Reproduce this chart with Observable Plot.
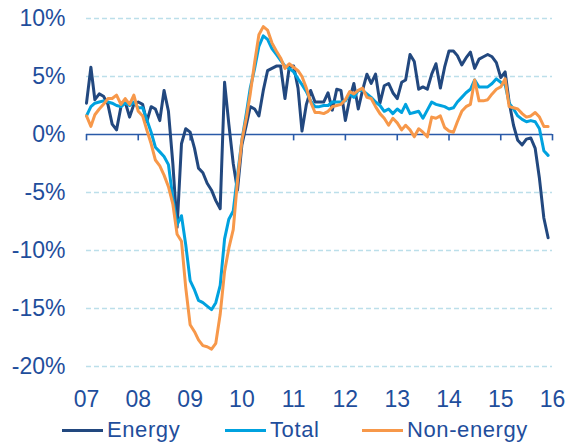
<!DOCTYPE html>
<html>
<head>
<meta charset="utf-8">
<script src="https://cdn.jsdelivr.net/npm/d3@7"></script>
<script src="https://cdn.jsdelivr.net/npm/@observablehq/plot@0.6"></script>
<style>
  html, body { margin: 0; padding: 0; background: #ffffff; }
  #wrap { width: 569px; height: 444px; position: relative; overflow: hidden;
          font-family: "Liberation Sans", Arial, sans-serif; color: #1f4e9c; }
  #legend { position: relative; width: 569px; height: 34px; }
  .item { position: absolute; top: 7px; height: 26px; display: flex; align-items: center; }
  .sw { display: inline-block; width: 41px; height: 3px; }
  .lab { font-size: 22px; letter-spacing: 0.6px; margin-left: 4px; line-height: 26px; white-space: nowrap; }
</style>
</head>
<body>
<div id="wrap"><div id="chart"></div><div id="legend"></div></div>
<script>
// Monthly year-on-year change (%), Jan 2007 – Dec 2015
const startYear = 2007;
const seriesNames = ["Energy", "Total", "Non-energy"];
const seriesColors = ["#22487f", "#00a2df", "#f7984a"];
const yTicks = [-20, -15, -10, -5, 0, 5, 10];
const xTickLabels = ["07", "08", "09", "10", "11", "12", "13", "14", "15", "16"];

const energy = [
  2.7, 5.8, 3.0, 3.5, 3.3, 2.6, 0.9, 0.4, 2.4, 2.8, 1.5, 2.6,
  2.8, 2.6, 1.1, 2.4, 2.2, 1.2, 3.8, 2.0, -2.5, -8.0, -0.8, 0.5,
  0.2, -1.2, -2.9, -3.3, -4.2, -4.8, -5.7, -6.4, 4.5, 0.9, -2.5, -4.8,
  -0.9, 0.8, 2.4, 2.2, 1.6, 3.8, 5.5, 5.7, 5.9, 5.9, 3.1, 5.8,
  5.9, 4.0, 0.3, 2.6, 3.8, 2.8, 2.8, 2.8, 3.6, 2.1, 3.9, 3.8,
  1.2, 3.1, 4.4, 2.2, 3.8, 5.2, 4.4, 5.2, 2.7, 4.2, 4.4, 3.6,
  3.1, 4.5, 4.7, 6.9, 6.3, 3.9, 4.1, 3.9, 5.2, 6.1, 4.0, 5.8,
  7.2, 7.2, 6.8, 6.0, 6.6, 7.1, 5.7, 6.5, 6.7, 6.9, 6.7, 6.2,
  4.9, 5.4, 2.8, 0.8, -0.5, -0.9, -0.4, -0.3, -1.2, -3.8, -7.2, -8.9
];
const total = [
  1.6, 2.4, 2.7, 2.8, 2.9, 2.8, 2.7, 2.5, 2.4, 2.7, 2.5, 2.8,
  2.3, 2.3, 1.3, 0.2, -1.1, -1.5, -1.9, -2.6, -5.5, -7.8, -7.0, -9.5,
  -12.6, -13.4, -14.3, -14.5, -14.8, -15.1, -14.5, -13.0, -9.0, -7.3, -6.6, -3.5,
  -0.5, 1.8, 4.0, 5.7, 7.6, 8.5, 8.2, 7.4, 6.9, 6.4, 5.9, 5.7,
  5.4, 4.8, 4.3, 3.7, 2.9, 2.4, 2.4, 2.5, 2.5, 2.8, 2.8, 2.8,
  2.9, 3.5, 3.2, 3.8, 3.8, 3.5, 3.2, 2.8, 2.5, 2.0, 2.2, 1.8,
  2.2, 1.9, 2.6, 1.8, 1.9, 2.0, 1.4, 2.1, 2.8, 2.6, 2.5, 2.4,
  2.2, 2.3, 2.8, 3.2, 3.6, 3.9, 4.7, 4.1, 4.1, 4.1, 4.4, 4.8,
  4.5, 4.3, 2.7, 2.2, 1.6, 1.3, 1.1, 1.2, 1.1, 0.5, -1.4, -1.8
];
const nonEnergy = [
  1.6, 0.7, 1.7, 2.2, 2.6, 3.1, 3.1, 3.4, 2.6, 3.1, 2.6, 3.4,
  2.0, 1.6, 0.4, -0.8, -2.2, -2.7, -3.5, -4.5, -6.0, -8.6, -9.2, -13.2,
  -16.4, -17.0, -17.7, -18.2, -18.3, -18.5, -18.0, -15.5, -11.8, -9.8, -8.2, -4.0,
  -0.5, 1.4, 3.5, 6.2, 8.6, 9.3, 9.0, 7.9, 7.2, 6.6, 5.7, 6.1,
  5.8, 5.5, 5.0, 4.0, 2.8, 1.9, 1.9, 1.8, 2.0, 2.4, 2.5, 2.6,
  3.0, 3.7, 3.5, 3.8, 4.0, 3.2, 3.1, 2.4, 1.8, 1.4, 0.8, 1.4,
  1.0, 0.4, 0.8, 0.4, -0.2, 0.5, 0.2, -0.2, 1.5, 1.4, 1.6, 0.6,
  0.3, 0.2, 1.1, 2.0, 2.4, 2.6, 4.7, 2.9, 2.9, 3.0, 3.5, 3.9,
  4.1, 4.8, 2.4, 2.3, 2.2, 1.8, 1.5, 1.6, 1.9, 1.5, 0.7, 0.7
];

const seriesValues = [energy, total, nonEnergy];
const rows = [];
seriesNames.forEach((name, s) => {
  seriesValues[s].forEach((v, i) => {
    rows.push({series: name, date: new Date(Date.UTC(startYear, i, 1)), value: v});
  });
});
const tickDates = xTickLabels.map((_, k) => new Date(Date.UTC(startYear + k, 0, 1)));
const labelOf = new Map(tickDates.map((d, k) => [+d, xTickLabels[k]]));
const gridVals = yTicks.filter(v => v !== 0);
const textColor = "#1f4e9c";
const axisColor = "#2a5aa8";

const chart = Plot.plot({
  width: 569,
  height: 410,
  marginLeft: 86,
  marginRight: 17,
  marginTop: 18,
  marginBottom: 44,
  style: {fontFamily: "'Liberation Sans', Arial, sans-serif", fontSize: "23px", color: textColor, background: "#ffffff", overflow: "visible"},
  x: {type: "utc", domain: [tickDates[0], tickDates[tickDates.length - 1]]},
  y: {domain: [-20, 10]},
  color: {domain: seriesNames, range: seriesColors},
  marks: [
    Plot.ruleY(gridVals, {stroke: "#bcdfea", strokeWidth: 1.5, strokeDasharray: "5,3"}),
    Plot.ruleY([0], {stroke: axisColor, strokeWidth: 1.6}),
    Plot.ruleX(tickDates, {y1: 0, y2: -0.55, stroke: axisColor, strokeWidth: 1.6}),
    Plot.axisX({ticks: tickDates, tickFormat: d => labelOf.get(+d), tickSize: 0, tickPadding: 24, fill: textColor, fontSize: 23, label: null}),
    Plot.axisY({ticks: yTicks, tickFormat: d => d + "%", tickSize: 0, tickPadding: 21, fill: textColor, fontSize: 23, label: null}),
    Plot.line(rows, {x: "date", y: "value", z: "series", stroke: "series", strokeWidth: 3, strokeLinejoin: "round", strokeLinecap: "round"})
  ]
});
document.getElementById("chart").appendChild(chart);

const legendPos = [62, 225, 362];
const legend = document.getElementById("legend");
seriesNames.forEach((name, i) => {
  const item = document.createElement("div");
  item.className = "item";
  item.style.left = legendPos[i] + "px";
  const sw = document.createElement("span");
  sw.className = "sw";
  sw.style.background = seriesColors[i];
  const lab = document.createElement("span");
  lab.className = "lab";
  lab.textContent = name;
  item.appendChild(sw);
  item.appendChild(lab);
  legend.appendChild(item);
});
</script>
</body>
</html>
